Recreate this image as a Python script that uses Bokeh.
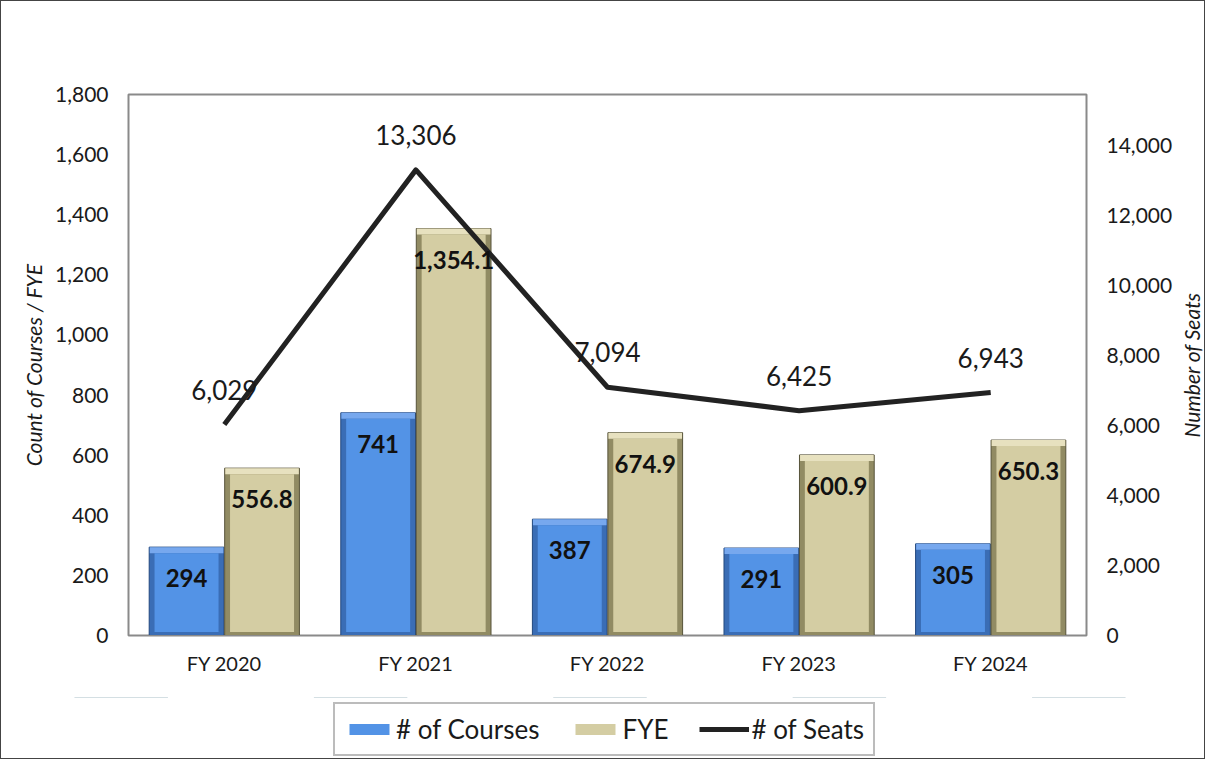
from bokeh.plotting import figure
from bokeh.layouts import column, row
from bokeh.models import (ColumnDataSource, Range1d, LinearAxis, SingleIntervalTicker, FixedTicker,
                          NumeralTickFormatter, LabelSet, Legend, LegendItem, FactorRange)
from bokeh.transform import dodge
from bokeh.embed import file_html
from bokeh.resources import INLINE
from bokeh.core.properties import value

# ---- data ----
years = ["FY 2020", "FY 2021", "FY 2022", "FY 2023", "FY 2024"]
courses = [294, 741, 387, 291, 305]
fye = [556.8, 1354.1, 674.9, 600.9, 650.3]
seats = [6029, 13306, 7094, 6425, 6943]

left_max = 1800
left_step = 200
right_step = 2000
right_max = 15460

FONT = "Lato"
TXT = "#1a1a1a"

BLUE = dict(edge="#23487e", dark="#3a6db5", light="#77a8ee", main="#5393e6")
TAN = dict(edge="#57533a", dark="#918b63", light="#e7e1bf", main="#d4cda3")

# bevel sizes (in left-axis units / category units) for the 3-D look
bev_top = 20
bev_bot = 12
bev_side = 0.028

src = ColumnDataSource(dict(
    year=years,
    courses=courses,
    fye=fye,
    seats=seats,
    courses_in=[v - bev_top for v in courses],
    fye_in=[v - bev_top for v in fye],
    courses_lbl=[f"{v:,}" for v in courses],
    fye_lbl=[f"{v:,.1f}" for v in fye],
    seats_lbl=[f"{v:,}" for v in seats],
))

MAIN_H = 696
p = figure(x_range=FactorRange(*years), y_range=Range1d(0, left_max),
           frame_width=958, frame_height=541,
           min_border_left=127, min_border_right=82,
           min_border_top=93, min_border_bottom=MAIN_H - 93 - 541,
           output_backend="svg", toolbar_location=None)
p.extra_y_ranges = {"seats": Range1d(0, right_max)}

p.xgrid.grid_line_color = None
p.ygrid.grid_line_color = None
p.outline_line_color = "#8a8a8a"
p.outline_line_width = 2

off = 0.197
bw = 0.39

def bevel_bar(fig, xoff, col, c):
    x = dodge("year", xoff, range=fig.x_range)
    r = fig.vbar(x=x, top=col, width=bw, source=src, fill_color=c["dark"],
                 line_color=c["edge"], line_width=1)
    fig.vbar(x=x, top=col, bottom=col + "_in", width=bw - 0.006, source=src,
             fill_color=c["light"], line_color=None)
    fig.vbar(x=x, top=col + "_in", bottom=bev_bot, width=bw - 2 * bev_side, source=src,
             fill_color=c["main"], line_color=None)
    return r

bevel_bar(p, -off, "courses", BLUE)
bevel_bar(p, off, "fye", TAN)
p.line(x="year", y="seats", y_range_name="seats", source=src,
       line_color="#222222", line_width=5, line_join="round")

p.add_layout(LabelSet(x=dodge("year", -off, range=p.x_range), y="courses", text="courses_lbl",
                      source=src, y_offset=-31, text_align="center", text_baseline="middle",
                      text_font=value(FONT), text_font_style="bold", text_font_size="24px",
                      text_color="#111111"))
p.add_layout(LabelSet(x=dodge("year", off, range=p.x_range), y="fye", text="fye_lbl",
                      source=src, y_offset=-31, text_align="center", text_baseline="middle",
                      text_font=value(FONT), text_font_style="bold", text_font_size="24px",
                      text_color="#111111"))
p.add_layout(LabelSet(x="year", y="seats", y_range_name="seats", text="seats_lbl",
                      source=src, y_offset=35, text_align="center", text_baseline="middle",
                      text_font=value(FONT), text_font_size="26px", text_color=TXT))

def style_axis(ax):
    ax.axis_line_color = None
    ax.major_tick_line_color = None
    ax.minor_tick_line_color = None
    ax.major_tick_out = 0
    ax.major_tick_in = 0
    ax.minor_tick_out = 0
    ax.major_label_text_font = FONT
    ax.major_label_text_font_size = "21px"
    ax.major_label_text_color = TXT
    ax.axis_label_text_font = FONT
    ax.axis_label_text_font_size = "21px"
    ax.axis_label_text_font_style = "italic"
    ax.axis_label_text_color = TXT

yl = p.yaxis[0]
yl.ticker = SingleIntervalTicker(interval=left_step)
yl.formatter = NumeralTickFormatter(format="0,0")
yl.axis_label = "Count of Courses / FYE"
style_axis(yl)
yl.major_label_standoff = 20
yl.axis_label_standoff = 6

yr = LinearAxis(y_range_name="seats", ticker=SingleIntervalTicker(interval=right_step),
                formatter=NumeralTickFormatter(format="0,0"))
style_axis(yr)
yr.major_label_standoff = 20
p.add_layout(yr, "right")

xa = p.xaxis[0]
style_axis(xa)
xa.axis_line_color = "#8a8a8a"
xa.major_label_standoff = 15
xa.major_label_text_font_size = "20px"

# ---- narrow strip carrying the right-hand axis title (reads bottom to top) ----
ps = figure(width=30, height=MAIN_H, frame_height=541, frame_width=1,
            min_border_top=93, min_border_bottom=MAIN_H - 93 - 541,
            min_border_left=0, min_border_right=0,
            x_range=Range1d(0, 1), y_range=Range1d(0, right_max), x_axis_type=None,
            output_backend="svg", toolbar_location=None)
ps.outline_line_color = None
ps.xgrid.grid_line_color = None
ps.ygrid.grid_line_color = None
sa = ps.yaxis[0]
style_axis(sa)
sa.ticker = FixedTicker(ticks=[])
sa.axis_label = "Number of Seats"
sa.axis_label_standoff = 0
sa.major_label_standoff = 0

# ---- legend strip (its glyphs fall far outside its own visible range) ----
LEG_H = 61
pl = figure(width=958 + 127 + 82 + 30, height=LEG_H,
            x_range=FactorRange(*years), y_range=Range1d(-100000, -99999),
            x_axis_type=None, y_axis_type=None, min_border=0,
            output_backend="svg", toolbar_location=None)
pl.outline_line_color = None
pl.xgrid.grid_line_color = None
pl.ygrid.grid_line_color = None
lr1 = pl.vbar(x="year", top="courses", width=bw, source=src, fill_color=BLUE["main"],
              line_color=None)
lr2 = pl.vbar(x="year", top="fye", width=bw, source=src, fill_color=TAN["main"],
              line_color=None)
lr3 = pl.line(x="year", y="seats", source=src, line_color="#222222", line_width=5)

legend = Legend(items=[LegendItem(label="# of Courses", renderers=[lr1]),
                       LegendItem(label="FYE", renderers=[lr2]),
                       LegendItem(label="# of Seats", renderers=[lr3])],
                orientation="horizontal", location=(332, 2), margin=0,
                border_line_color="#7a7a7a", border_line_width=2,
                padding=9, spacing=31, glyph_width=50, glyph_height=14,
                label_standoff=2, label_text_font=FONT, label_text_font_size="26px",
                label_text_color=TXT, background_fill_color="white", background_fill_alpha=1)
pl.add_layout(legend)

layout = column(row(p, ps, spacing=0), pl, spacing=0,
                styles={"border": "1px solid #444"})

open("out.html", "w").write(file_html(layout, INLINE))
